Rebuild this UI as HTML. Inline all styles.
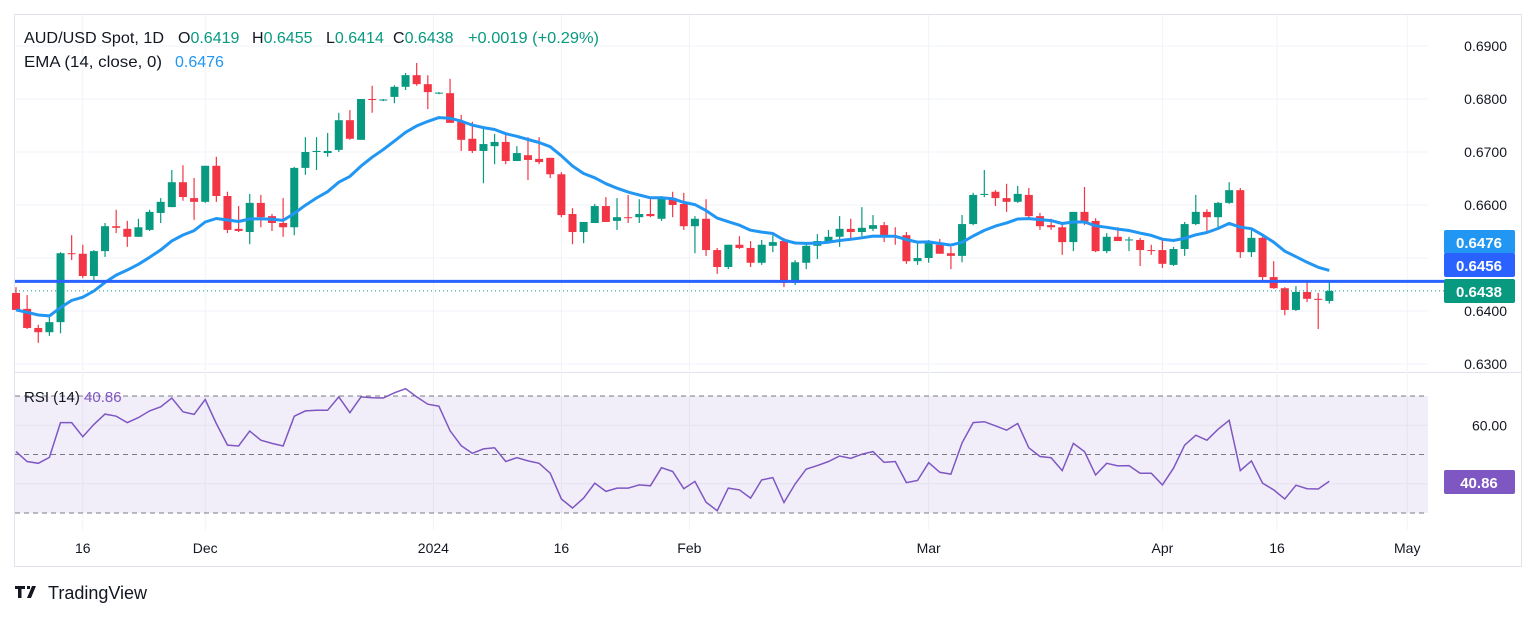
<!DOCTYPE html>
<html><head><meta charset="utf-8">
<style>
html,body{margin:0;padding:0;background:#fff;}
body{width:1536px;height:618px;overflow:hidden;font-family:"Liberation Sans",sans-serif;}
svg text{font-family:"Liberation Sans",sans-serif;}
</style></head>
<body>
<svg id="chart" width="1536" height="618" xmlns="http://www.w3.org/2000/svg">
  <rect x="14.5" y="14.5" width="1507" height="552" fill="#fff" stroke="#e0e3eb"/>
  <line x1="14" y1="372.5" x2="1521" y2="372.5" stroke="#e0e3eb"/>
  <g id="grid"></g>
  <rect x="15" y="396" width="1413" height="117" fill="rgba(126,87,194,0.1)"/>
  <g id="rsiLines"></g>
  <g id="candles"></g>
  <g id="overlay"></g>
  <g id="axis"></g>
  <g font-size="16" fill="#131722">
    <text x="24" y="43" textLength="140" lengthAdjust="spacingAndGlyphs">AUD/USD Spot, 1D</text>
    <text x="178" y="43">O<tspan fill="#089981">0.6419</tspan></text>
    <text x="252" y="43">H<tspan fill="#089981">0.6455</tspan></text>
    <text x="326" y="43">L<tspan fill="#089981">0.6414</tspan></text>
    <text x="393" y="43">C<tspan fill="#089981">0.6438</tspan></text>
    <text x="468" y="43" fill="#089981" textLength="131" lengthAdjust="spacingAndGlyphs">+0.0019 (+0.29%)</text>
  </g>
  <g font-size="16">
    <text x="24" y="67" fill="#131722" textLength="138" lengthAdjust="spacingAndGlyphs">EMA (14, close, 0)</text>
    <text x="175" y="67" fill="#2196f3">0.6476</text>
  </g>
  <text x="24" y="402" font-size="15" fill="#131722">RSI (14) <tspan fill="#7e57c2">40.86</tspan></text>
  <g>
    <path d="M15 586h10v3h-3.5v9h-3.5v-9h-3zM27 586h3v3h-3zM32 586h4l-5 12h-4z" fill="#131722"/>
    <text x="48" y="599" font-size="18" fill="#131722">TradingView</text>
  </g>
</svg>
<script>
const opens=[0.6434,0.6404,0.6368,0.6360,0.6379,0.6509,0.6508,0.6466,0.6513,0.6560,0.6555,0.6540,0.6553,0.6585,0.6596,0.6643,0.6613,0.6606,0.6674,0.6617,0.6555,0.6549,0.6604,0.6579,0.6566,0.6558,0.6670,0.6700,0.6698,0.6704,0.6760,0.6723,0.6800,0.6798,0.6804,0.6823,0.6845,0.6828,0.6811,0.6811,0.6757,0.6725,0.6702,0.6711,0.6719,0.6683,0.6694,0.6687,0.6689,0.6658,0.6583,0.6549,0.6566,0.6598,0.6570,0.6577,0.6577,0.6583,0.6574,0.6613,0.6602,0.6560,0.6574,0.6515,0.6483,0.6525,0.6519,0.6491,0.6523,0.6532,0.6453,0.6491,0.6523,0.6532,0.6540,0.6555,0.6549,0.6555,0.6562,0.6541,0.6543,0.6494,0.6500,0.6525,0.6509,0.6504,0.6564,0.6619,0.6625,0.6613,0.6606,0.6619,0.6579,0.6562,0.6558,0.6530,0.6587,0.6570,0.6513,0.6540,0.6534,0.6534,0.6515,0.6515,0.6487,0.6517,0.6564,0.6587,0.6577,0.6604,0.6628,0.6511,0.6538,0.6464,0.6443,0.6402,0.6436,0.6423,0.6419];
const highs=[0.6445,0.6430,0.6374,0.6392,0.6511,0.6543,0.6525,0.6515,0.6566,0.6591,0.6570,0.6574,0.6591,0.6613,0.6666,0.6675,0.6651,0.6674,0.6691,0.6625,0.6598,0.6621,0.6619,0.6583,0.6613,0.6672,0.6728,0.6728,0.6736,0.6774,0.6779,0.6800,0.6825,0.6800,0.6826,0.6849,0.6868,0.6845,0.6813,0.6838,0.6770,0.6757,0.6747,0.6734,0.6734,0.6711,0.6728,0.6728,0.6689,0.6662,0.6594,0.6568,0.6602,0.6615,0.6613,0.6619,0.6611,0.6611,0.6617,0.6625,0.6623,0.6579,0.6611,0.6519,0.6525,0.6541,0.6532,0.6534,0.6543,0.6538,0.6496,0.6528,0.6545,0.6553,0.6579,0.6574,0.6596,0.6581,0.6568,0.6558,0.6549,0.6530,0.6534,0.6536,0.6521,0.6581,0.6623,0.6666,0.6628,0.6640,0.6636,0.6632,0.6585,0.6574,0.6566,0.6587,0.6634,0.6575,0.6547,0.6558,0.6540,0.6538,0.6525,0.6538,0.6521,0.6568,0.6619,0.6592,0.6606,0.6643,0.6632,0.6553,0.6540,0.6494,0.6445,0.6447,0.6455,0.6434,0.6455];
const lows=[0.6402,0.6366,0.6340,0.6353,0.6358,0.6496,0.6462,0.6455,0.6502,0.6547,0.6521,0.6540,0.6551,0.6566,0.6596,0.6608,0.6572,0.6604,0.6606,0.6547,0.6549,0.6526,0.6558,0.6551,0.6540,0.6543,0.6657,0.6666,0.6691,0.6700,0.6723,0.6723,0.6774,0.6796,0.6792,0.6817,0.6825,0.6781,0.6809,0.6755,0.6702,0.6698,0.6641,0.6677,0.6677,0.6683,0.6647,0.6677,0.6651,0.6577,0.6526,0.6528,0.6566,0.6568,0.6553,0.6566,0.6566,0.6577,0.6570,0.6577,0.6553,0.6509,0.6504,0.6470,0.6479,0.6517,0.6483,0.6487,0.6511,0.6445,0.6449,0.6479,0.6498,0.6530,0.6521,0.6536,0.6541,0.6551,0.6530,0.6525,0.6489,0.6487,0.6491,0.6508,0.6479,0.6492,0.6562,0.6615,0.6598,0.6587,0.6604,0.6572,0.6553,0.6553,0.6506,0.6513,0.6562,0.6511,0.6509,0.6532,0.6513,0.6485,0.6506,0.6481,0.6485,0.6504,0.6562,0.6551,0.6558,0.6602,0.6500,0.6502,0.6458,0.6442,0.6392,0.6400,0.6417,0.6366,0.6414];
const closes=[0.6402,0.6368,0.6360,0.6379,0.6509,0.6508,0.6466,0.6513,0.6560,0.6557,0.6540,0.6558,0.6587,0.6606,0.6643,0.6615,0.6606,0.6674,0.6617,0.6553,0.6551,0.6604,0.6577,0.6566,0.6558,0.6670,0.6700,0.6702,0.6702,0.6760,0.6725,0.6800,0.6799,0.6799,0.6823,0.6845,0.6828,0.6813,0.6812,0.6755,0.6723,0.6702,0.6715,0.6719,0.6683,0.6698,0.6685,0.6681,0.6658,0.6581,0.6549,0.6568,0.6598,0.6568,0.6577,0.6576,0.6583,0.6579,0.6615,0.6600,0.6560,0.6574,0.6515,0.6483,0.6525,0.6519,0.6491,0.6525,0.6530,0.6453,0.6492,0.6523,0.6532,0.6540,0.6555,0.6549,0.6557,0.6562,0.6540,0.6540,0.6494,0.6500,0.6532,0.6508,0.6504,0.6564,0.6619,0.6621,0.6613,0.6606,0.6621,0.6579,0.6560,0.6558,0.6530,0.6587,0.6568,0.6513,0.6540,0.6532,0.6535,0.6515,0.6514,0.6489,0.6517,0.6564,0.6587,0.6577,0.6604,0.6628,0.6511,0.6538,0.6464,0.6443,0.6402,0.6436,0.6423,0.6421,0.6438];
const rsiValues=[51.0,47.6,47.0,49.0,60.9,60.9,56.1,60.3,63.8,63.1,60.9,62.6,64.9,66.3,69.3,64.6,63.7,68.8,60.6,53.2,52.9,58.0,54.9,53.8,52.9,63.1,64.9,65.1,65.1,69.7,64.3,69.7,69.4,69.3,71.1,72.5,69.7,67.2,66.5,58.1,53.0,50.4,51.9,52.3,47.6,48.9,47.8,47.0,43.6,34.8,31.7,35.1,40.2,37.4,38.5,38.5,39.6,39.3,45.5,44.2,38.3,40.8,33.7,30.8,38.5,37.9,35.1,41.3,42.1,33.6,39.9,45.0,46.2,47.6,49.5,48.7,50.1,51.0,47.3,47.6,40.4,41.1,47.2,43.9,43.3,54.0,60.9,61.2,59.8,58.3,60.6,52.3,49.3,48.9,44.5,53.8,51.0,43.0,47.0,46.1,46.2,43.6,43.6,39.6,45.3,53.2,56.6,54.9,58.6,61.7,44.5,47.8,40.2,37.9,34.8,39.5,38.3,38.2,40.86];
const emaSeed=0.6402;
const emaPeriod=14;
const emaLastLabel="0.6476";
const priceTicks=[0.6300,0.6400,0.6500,0.6600,0.6700,0.6800,0.6900];
const rsiLevels=[70,50,30];
const rsiGrid=[60,40];
const supportLevel=0.6456;
const timeLabels=["16","Dec","2024","16","Feb","Mar","Apr","16","May"];
const timeIdx=[6,17,37.5,49,60.5,82,103,113.3,125];

const NS="http://www.w3.org/2000/svg";
function yP(p){return 46+(0.69-p)*5300;}
function yR(r){return 396+(70-r)*2.925;}
function xI(i){return 16+i*11.13;}
function mk(tag,attrs,parent){const e=document.createElementNS(NS,tag);for(const k in attrs)e.setAttribute(k,attrs[k]);parent.appendChild(e);return e;}
const grid=document.getElementById('grid'),cg=document.getElementById('candles'),ov=document.getElementById('overlay'),ax=document.getElementById('axis'),rl=document.getElementById('rsiLines');

priceTicks.forEach(p=>{
  const l=mk('line',{x1:15,x2:1428,y1:yP(p),y2:yP(p),stroke:'#f0f3fa'},grid);
  
  
  const t=mk('text',{x:1507,y:yP(p)+5,'text-anchor':'end','font-size':14,fill:'#131722'},ax);
  t.textContent=p.toFixed(4);
  
  
});
timeLabels.forEach((s,k)=>{
  const x=xI(timeIdx[k]);
  const l=mk('line',{x1:x,x2:x,y1:15,y2:530,stroke:'#f0f3fa'},grid);
  
  
  const t=mk('text',{x:x,y:553,'text-anchor':'middle','font-size':14,fill:'#131722'},ax);
  t.textContent=s;
  
  
});
rsiGrid.forEach(r=>{
  const l=mk('line',{x1:15,x2:1428,y1:yR(r),y2:yR(r),stroke:'#e6e1f0'},rl);
  
  
});
rsiLevels.forEach(r=>{
  const l=mk('line',{x1:15,x2:1428,y1:yR(r),y2:yR(r),stroke:'#787b86','stroke-dasharray':'5,4'},rl);
  
  
});
const t60=mk('text',{x:1507,y:yR(60)+5,'text-anchor':'end','font-size':14,fill:'#131722'},ax);
t60.textContent='60.00';



closes.forEach((c,i)=>{
  const o=opens[i],up=c>=o,col=up?'#089981':'#f23645',x=xI(i);
  const w=mk('line',{x1:x,x2:x,y1:yP(highs[i]),y2:yP(lows[i]),stroke:col,'stroke-width':1.2},cg);
  
  
  const top=yP(Math.max(o,c)),h=Math.max(1,Math.abs(yP(o)-yP(c)));
  const b=mk('rect',{x:x-4,y:top,width:8,height:h,fill:col},cg);
  
  
});

let ema=emaSeed;const k=2/(emaPeriod+1);let pts=[];
closes.forEach((c,i)=>{if(i>0)ema=c*k+ema*(1-k);pts.push(xI(i).toFixed(1)+','+yP(ema).toFixed(1));});
const emaLine=mk('polyline',{points:pts.join(' '),fill:'none',stroke:'#2196f3','stroke-width':3,'stroke-linejoin':'round'},ov);



const sup=mk('line',{x1:15,x2:1444,y1:yP(supportLevel),y2:yP(supportLevel),stroke:'#2962ff','stroke-width':3},ov);


const last=closes[closes.length-1];
const dl=mk('line',{x1:15,x2:1444,y1:yP(last),y2:yP(last),stroke:'#089981','stroke-dasharray':'1,3'},ov);



const rp=rsiValues.map((r,i)=>xI(i).toFixed(1)+','+yR(r).toFixed(1));
const rsiLine=mk('polyline',{points:rp.join(' '),fill:'none',stroke:'#7e57c2','stroke-width':1.5},ov);



function label(val,y,bg,name){
  const g=mk('g',{},ax);
  
  
  mk('rect',{x:1444,y:y-12,width:71,height:24,rx:2,fill:bg},g);
  const t=mk('text',{x:1479,y:y+6,'text-anchor':'middle','font-size':15,'font-weight':'bold',fill:'#fff'},g);
  t.textContent=val;
}
label(emaLastLabel,242,'#2196f3','ema-price-label');
label(supportLevel.toFixed(4),265,'#2962ff','support-price-label');
label(last.toFixed(4),291,'#089981','last-price-label');
label(rsiValues[rsiValues.length-1].toFixed(2),482,'#7e57c2','rsi-value-label');
</script>
</body></html>
